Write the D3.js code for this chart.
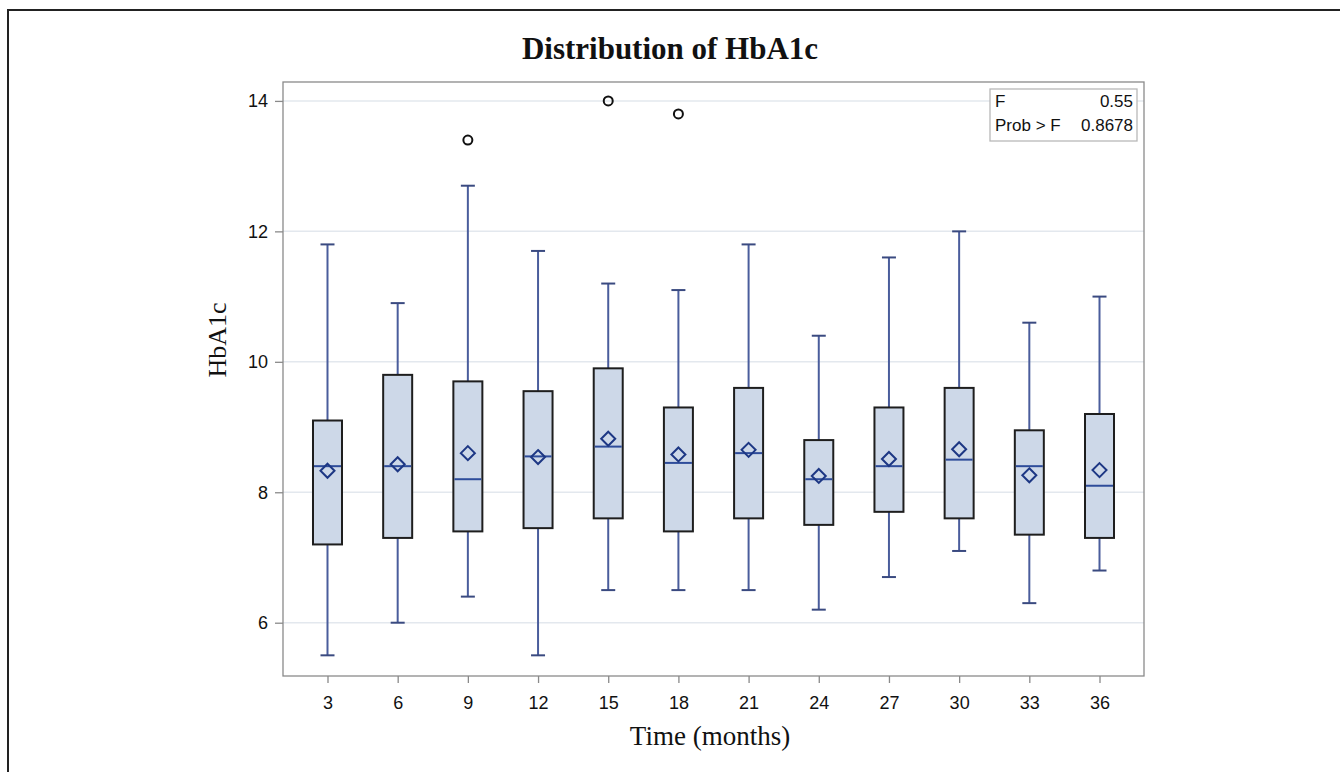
<!DOCTYPE html>
<html><head><meta charset="utf-8">
<script src="https://cdn.jsdelivr.net/npm/d3@7"></script>
<style>body{margin:0;background:#fff}svg{display:block}</style>
</head><body>
<svg id="c" width="1340" height="772"></svg>
<script>
const categories = ["3","6","9","12","15","18","21","24","27","30","33","36"];
const whiskerLow  = [5.5, 6.0, 6.4, 5.5, 6.5, 6.5, 6.5, 6.2, 6.7, 7.1, 6.3, 6.8];
const q1          = [7.2, 7.3, 7.4, 7.45,7.6, 7.4, 7.6, 7.5, 7.7, 7.6, 7.35,7.3];
const medians     = [8.4, 8.4, 8.2, 8.55,8.7, 8.45,8.6, 8.2, 8.4, 8.5, 8.4, 8.1];
const means       = [8.33,8.43,8.6, 8.54,8.82,8.58,8.65,8.25,8.51,8.66,8.26,8.34];
const q3          = [9.1, 9.8, 9.7, 9.55,9.9, 9.3, 9.6, 8.8, 9.3, 9.6, 8.95,9.2];
const whiskerHigh = [11.8,10.9,12.7,11.7,11.2,11.1,11.8,10.4,11.6,12.0,10.6,11.0];
const outlierCats = ["9","15","18"];
const outlierVals = [13.4, 14.0, 13.8];
const yTicks = [6, 8, 10, 12, 14];
const titleText = "Distribution of HbA1c";
const xLabel = "Time (months)";
const yLabel = "HbA1c";
const statNames = ["F", "Prob > F"];
const statVals = ["0.55", "0.8678"];

const svg = d3.select("#c");
const L = 283, R = 1144, T = 82, B = 676;
const x = d3.scalePoint().domain(categories).range([L, R]).padding(0.634);
const y = d3.scaleLinear().domain([5.183, 14.29]).range([B, T]);

// outer image border
svg.append("line").attr("x1",7).attr("x2",1340).attr("y1",10).attr("y2",10).attr("stroke","#222").attr("stroke-width",2);
svg.append("line").attr("x1",8).attr("x2",8).attr("y1",9).attr("y2",772).attr("stroke","#222").attr("stroke-width",2);

// title
svg.append("text").attr("x",670).attr("y",59).attr("text-anchor","middle")
  .attr("font-family","'Liberation Serif','Times New Roman',serif").attr("font-weight","bold")
  .attr("font-size",31).attr("fill","#111").text(titleText);

// grid
svg.append("g").selectAll("line").data(yTicks).join("line")
  .attr("x1",L).attr("x2",R).attr("y1",d=>y(d)).attr("y2",d=>y(d))
  .attr("stroke","#e3e8ee").attr("stroke-width",1.5);

// frame
svg.append("rect").attr("x",L).attr("y",T).attr("width",R-L).attr("height",B-T)
  .attr("fill","none").attr("stroke","#8a8a8a").attr("stroke-width",1.3);

// axes
const axL = svg.append("g").attr("transform",`translate(${L},0)`)
  .call(d3.axisLeft(y).tickValues(yTicks).tickSize(8).tickPadding(7).tickFormat(d3.format("d")));
const axB = svg.append("g").attr("transform",`translate(0,${B})`)
  .call(d3.axisBottom(x).tickSize(7).tickPadding(13));
[axL, axB].forEach(a=>{
  a.select(".domain").remove();
  a.selectAll("line").attr("stroke","#8a8a8a").attr("stroke-width",1.3);
  a.selectAll("text").attr("font-family","'Liberation Sans',Arial,sans-serif").attr("font-size",18).attr("fill","#111");
});

// axis labels
svg.append("text").attr("x",710).attr("y",745).attr("text-anchor","middle")
  .attr("font-family","'Liberation Serif','Times New Roman',serif").attr("font-size",27).attr("fill","#111").text(xLabel);
svg.append("text").attr("transform","translate(226,340) rotate(-90)").attr("text-anchor","middle")
  .attr("font-family","'Liberation Serif','Times New Roman',serif").attr("font-size",26).attr("fill","#111").text(yLabel);

// boxes
const data = categories.map((c,i)=>({c, lo:whiskerLow[i], q1:q1[i], med:medians[i], mean:means[i], q3:q3[i], hi:whiskerHigh[i]}));
const bw = 29, cw = 14;
const whiskerColor = "#4a5d9c";
const g = svg.append("g");
const bx = g.selectAll("g.box").data(data).join("g").attr("class","box");
bx.append("line").attr("x1",d=>x(d.c)).attr("x2",d=>x(d.c)).attr("y1",d=>y(d.hi)).attr("y2",d=>y(d.q3))
  .attr("stroke",whiskerColor).attr("stroke-width",2);
bx.append("line").attr("x1",d=>x(d.c)).attr("x2",d=>x(d.c)).attr("y1",d=>y(d.q1)).attr("y2",d=>y(d.lo))
  .attr("stroke",whiskerColor).attr("stroke-width",2);
bx.append("line").attr("x1",d=>x(d.c)-cw/2).attr("x2",d=>x(d.c)+cw/2).attr("y1",d=>y(d.hi)).attr("y2",d=>y(d.hi))
  .attr("stroke","#3a4a80").attr("stroke-width",2);
bx.append("line").attr("x1",d=>x(d.c)-cw/2).attr("x2",d=>x(d.c)+cw/2).attr("y1",d=>y(d.lo)).attr("y2",d=>y(d.lo))
  .attr("stroke","#3a4a80").attr("stroke-width",2);
bx.append("rect").attr("x",d=>x(d.c)-bw/2).attr("width",bw).attr("y",d=>y(d.q3)).attr("height",d=>y(d.q1)-y(d.q3))
  .attr("fill","#cdd8e8").attr("stroke","#1e1e1e").attr("stroke-width",2);
bx.append("line").attr("x1",d=>x(d.c)-bw/2+1).attr("x2",d=>x(d.c)+bw/2-1).attr("y1",d=>y(d.med)).attr("y2",d=>y(d.med))
  .attr("stroke","#2e4c9a").attr("stroke-width",2);
bx.append("path").attr("transform",d=>`translate(${x(d.c)},${y(d.mean)})`)
  .attr("d","M0,-7L7,0L0,7L-7,0Z").attr("fill","none").attr("stroke","#1d3784").attr("stroke-width",2);

// outliers
g.selectAll("circle").data(outlierCats.map((c,i)=>({c,v:outlierVals[i]}))).join("circle")
  .attr("cx",d=>x(d.c)).attr("cy",d=>y(d.v)).attr("r",4.5)
  .attr("fill","none").attr("stroke","#111").attr("stroke-width",2);

// stats inset
svg.append("rect").attr("x",990).attr("y",89).attr("width",147).attr("height",52)
  .attr("fill","#fff").attr("stroke","#b8b8b8").attr("stroke-width",1.3);
const st = svg.append("g").attr("font-family","'Liberation Sans',Arial,sans-serif").attr("font-size",17).attr("fill","#111");
statNames.forEach((n,i)=>{
  st.append("text").attr("x",995).attr("y",107+i*23.5).text(n);
  st.append("text").attr("x",1133).attr("y",107+i*23.5).attr("text-anchor","end").text(statVals[i]);
});
</script>
</body></html>
